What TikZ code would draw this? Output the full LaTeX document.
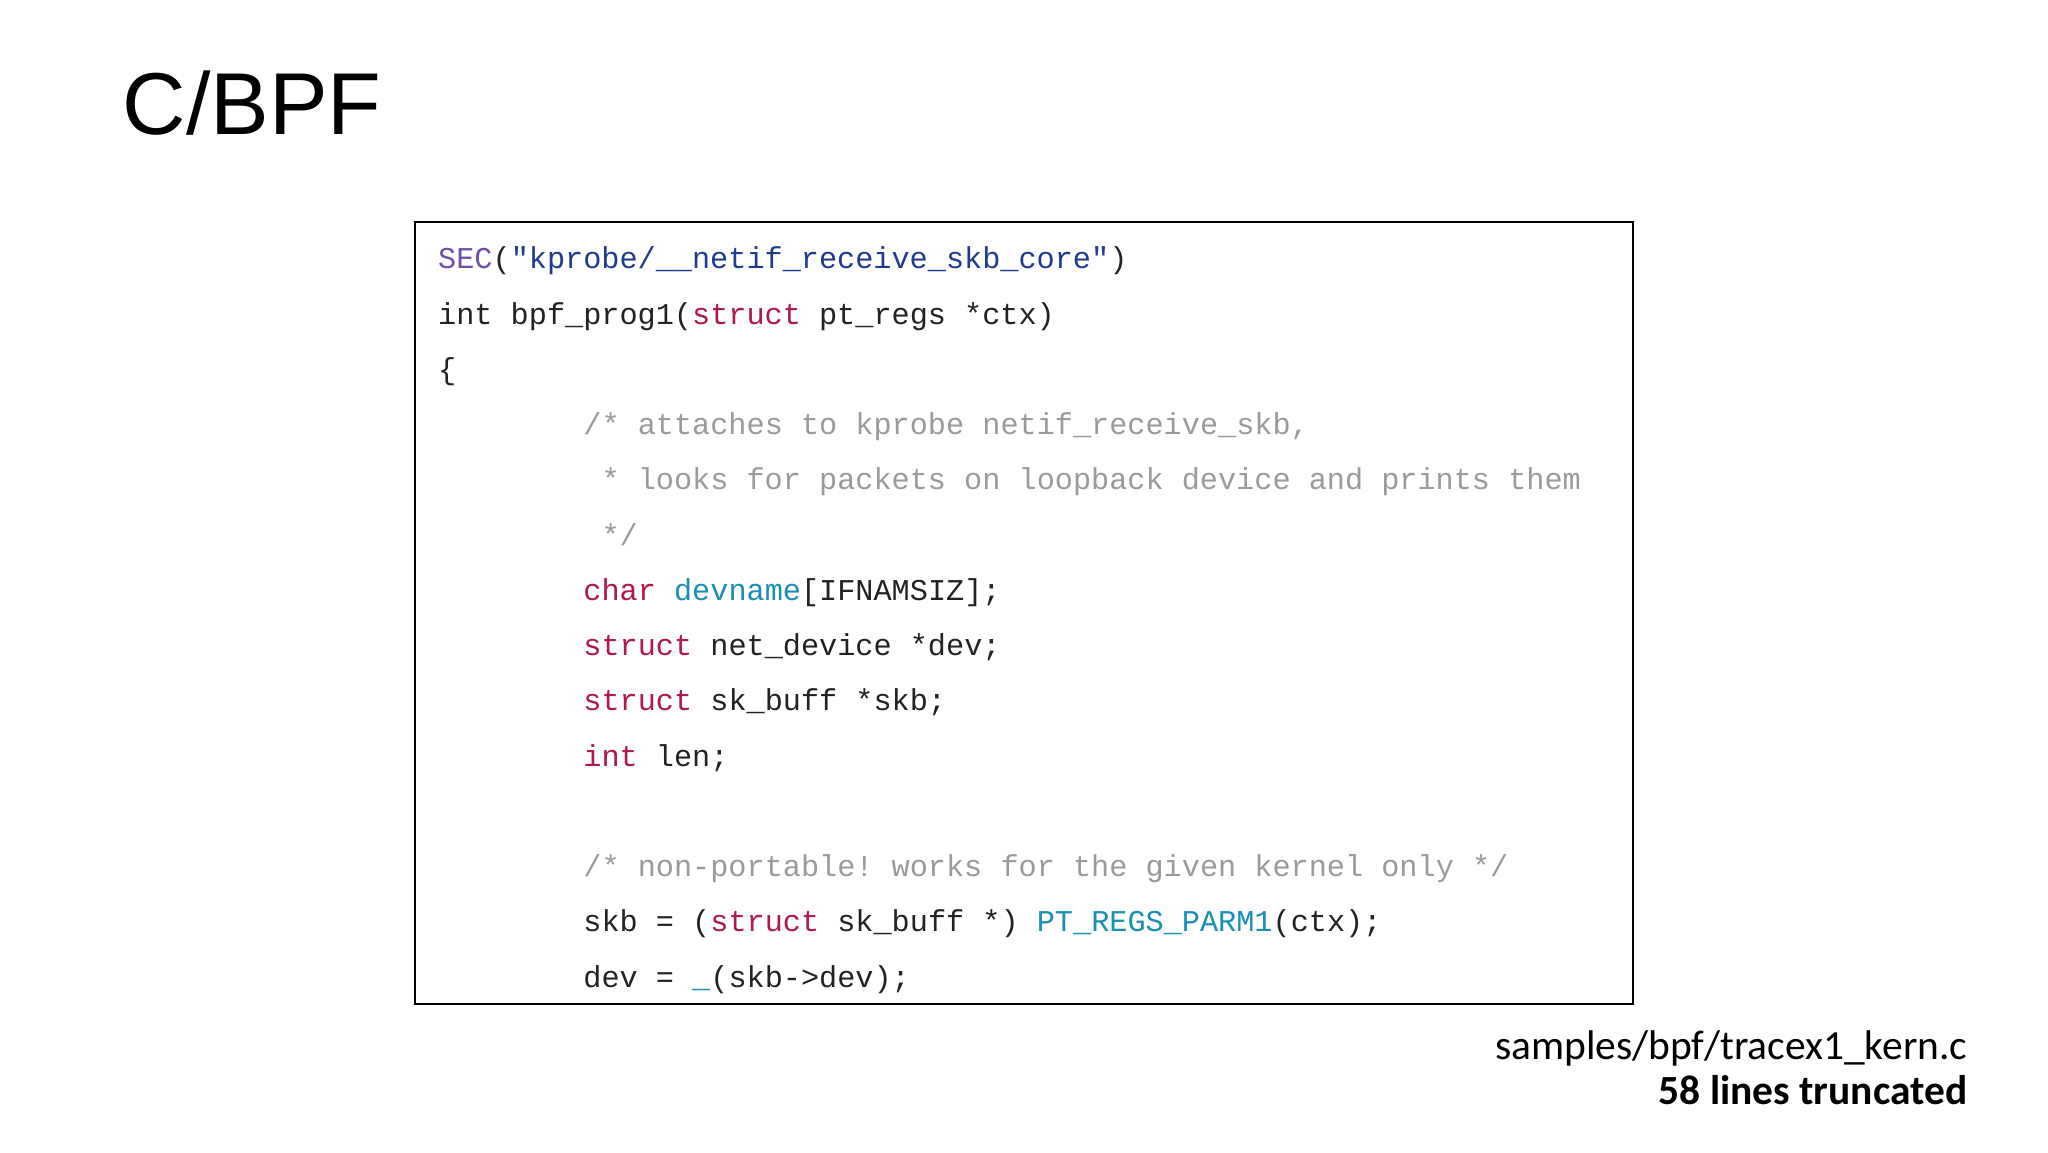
\documentclass[tikz,border=0pt]{standalone}
\usepackage{fontspec}
\setmainfont{Carlito}
\setsansfont{Liberation Sans}
\setmonofont{Liberation Mono}
\definecolor{kw}{HTML}{B0184F}
\definecolor{mac}{HTML}{6F4FA8}
\definecolor{str}{HTML}{1F3A8F}
\definecolor{fn}{HTML}{1A8FB5}
\definecolor{cmt}{HTML}{9A9A9A}
\definecolor{txt}{HTML}{222222}
\newcommand\K[1]{\textcolor{kw}{#1}}
\newcommand\F[1]{\textcolor{fn}{#1}}
\newcommand\Cm[1]{\textcolor{cmt}{#1}}
\begin{document}
\begin{tikzpicture}[x=1cm,y=1cm,
  code/.style={anchor=base west,inner sep=0pt,font=\fontsize{8.6pt}{10pt}\ttfamily,text=txt}]
\useasboundingbox (0,0) rectangle (20.48,-11.53);
\fill[white] (0,0) rectangle (20.48,-11.53);
\node[anchor=base west,inner sep=0pt,font=\sffamily\fontsize{25pt}{30pt}\selectfont] (title) at (1.22,-1.35) {C/BPF};
\draw[line width=0.6pt] (4.15,-2.22) rectangle (16.33,-10.04);
\def\bx{4.375}\def\ix{5.827}\def\jx{6.008}
\def\dy{0.5525}
\node[code] (l1) at (\bx,-2.69) {\textcolor{mac}{SEC}(\textcolor{str}{"kprobe/\_\_netif\_receive\_skb\_core"})};
\node[code] (l2) at (\bx,-2.69-\dy) {int bpf\_prog1(\K{struct} pt\_regs *ctx)};
\node[code] (l3) at (\bx,-2.69-2*\dy) {\{};
\node[code] (l4) at (\ix,-2.69-3*\dy) {\Cm{/* attaches to kprobe netif\_receive\_skb,}};
\node[code] (l5) at (\jx,-2.69-4*\dy) {\Cm{* looks for packets on loopback device and prints them}};
\node[code] (l6) at (\jx,-2.69-5*\dy) {\Cm{*/}};
\node[code] (l7) at (\ix,-2.69-6*\dy) {\K{char} \F{devname}[IFNAMSIZ];};
\node[code] (l8) at (\ix,-2.69-7*\dy) {\K{struct} net\_device *dev;};
\node[code] (l9) at (\ix,-2.69-8*\dy) {\K{struct} sk\_buff *skb;};
\node[code] (l10) at (\ix,-2.69-9*\dy) {\K{int} len;};
\node[code] (l12) at (\ix,-2.69-11*\dy) {\Cm{/* non-portable! works for the given kernel only */}};
\node[code] (l13) at (\ix,-2.69-12*\dy) {skb = (\K{struct} sk\_buff *) \F{PT\_REGS\_PARM1}(ctx);};
\node[code] (l14) at (\ix,-2.69-13*\dy) {dev = \F{\_}(skb->dev);};
\node[anchor=base east,inner sep=0pt,font=\fontsize{11.8pt}{14pt}\selectfont] (src) at (19.68,-10.6) {samples/bpf/tracex1\_kern.c};
\node[anchor=base east,inner sep=0pt,font=\bfseries\fontsize{11.8pt}{14pt}\selectfont] (trunc) at (19.68,-11.05) {58 lines truncated};
\end{tikzpicture}
\end{document}
